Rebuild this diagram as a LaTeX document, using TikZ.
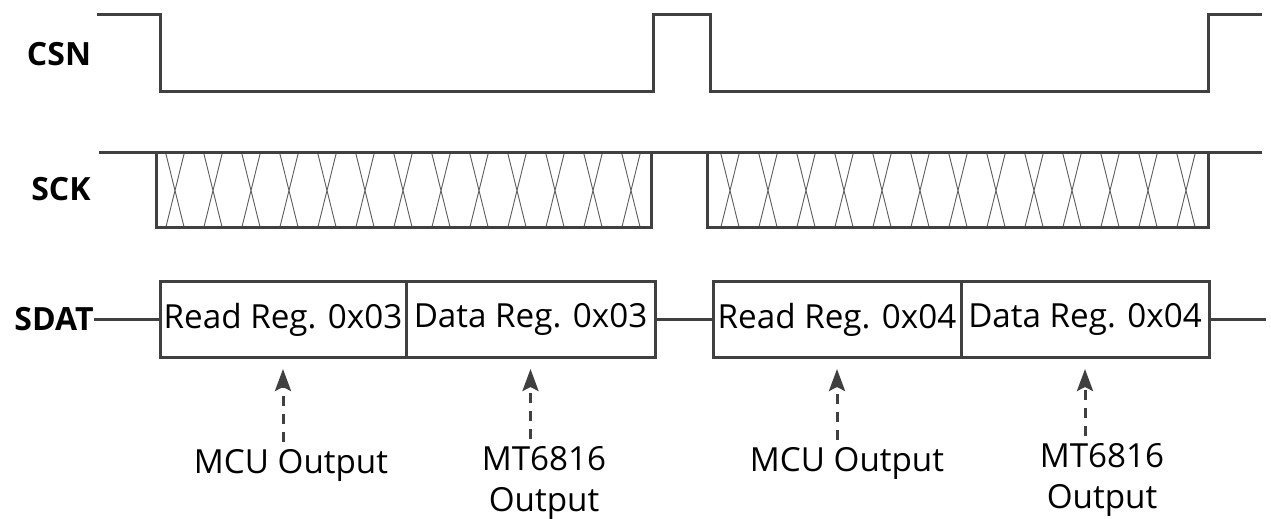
\documentclass[tikz,border=0pt]{standalone}
\usepackage{fontspec}
\setmainfont{Open Sans}
\usetikzlibrary{positioning,arrows.meta}

\begin{document}
\begin{tikzpicture}[x=0.5pt,y=-0.5pt,>={Stealth[length=11pt,width=8pt,inset=2pt]}]
\tikzstyle{every node}=[font=\fontsize{16.6}{20.5}\selectfont]
\tikzstyle{wire}=[draw={rgb,255:red,64;green,64;blue,64}, line width=1.5pt]
\tikzstyle{xline}=[draw={rgb,255:red,90;green,90;blue,90}, line width=0.45pt]
\tikzstyle{sig}=[font=\fontsize{16}{20}\selectfont\bfseries, inner sep=0pt]
\tikzstyle{reg}=[wire, fill=white, minimum height=37.5pt, inner sep=0pt, outer sep=0pt]
\tikzstyle{src}=[wire, dashed, dash pattern=on 5pt off 4pt, line width=1.5pt, ->, shorten >=6pt]
\useasboundingbox (0,0) rectangle (1271,519);

% CSN
\node[sig] (csn) at (59,54) {CSN};
\draw[wire] (97,15) -- (160,15) -- (160,92) -- (653,92) -- (653,15) -- (710,15)
  -- (710,92) -- (1208,92) -- (1208,15) -- (1262,15);

% SCK
\node[sig] (sck) at (61,189) {SCK};
\foreach \s in {175,730}
  \foreach \k in {0,...,12}
    \draw[xline] (\s+38*\k-9.3,153) -- (\s+38*\k+9.3,228)
                 (\s+38*\k+9.3,153) -- (\s+38*\k-9.3,228);
\draw[wire] (99,153) -- (1262,153);
\draw[wire] (156,153) -- (156,228) -- (651,228) -- (651,153);
\draw[wire] (707,153) -- (707,228) -- (1208,228) -- (1208,153);

% SDAT
\node[sig] (sdat) at (54,319.5) {SDAT};
\node[reg, minimum width=123pt] (rd1) at (283,319.5) {Read Reg. 0x03};
\node[reg, minimum width=124.5pt, right=0pt of rd1] (dt1) {Data Reg. 0x03};
\node[reg, minimum width=124pt] (rd2) at (837,319.5) {Read Reg. 0x04};
\node[reg, minimum width=124pt, right=0pt of rd2] (dt2) {Data Reg. 0x04};
\coordinate (sdend) at (1266,319.5);
\draw[wire] (sdat.east) -- (rd1.west);
\draw[wire] (dt1.east) -- (rd2.west);
\draw[wire] (dt2.east) -- (sdend);

% who drives the bus
\node (mcu1) at (291,465) {MCU Output};
\node[align=center] (mt1) at (544,483) {MT6816\\Output};
\node (mcu2) at (847,463) {MCU Output};
\node[align=center] (mt2) at (1102,480) {MT6816\\Output};
\draw[src] (rd1.south |- mcu1.north) -- (rd1.south);
\draw[src] (dt1.south |- mt1.north) -- (dt1.south);
\draw[src] (rd2.south |- mcu2.north) -- (rd2.south);
\draw[src] (dt2.south |- mt2.north) -- (dt2.south);
\end{tikzpicture}
\end{document}
